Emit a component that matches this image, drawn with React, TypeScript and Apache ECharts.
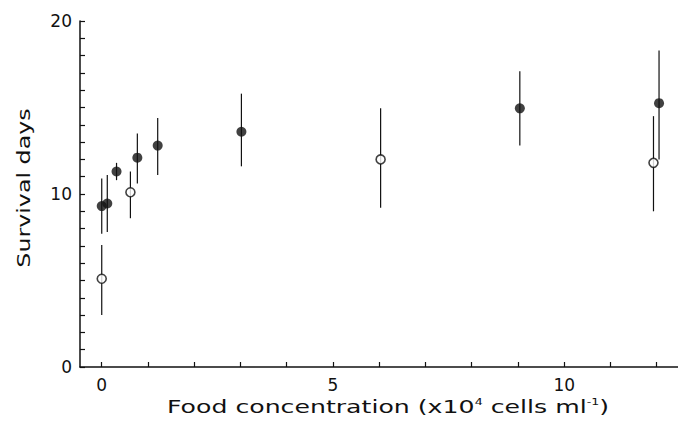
import React, { useEffect, useRef } from "react";
import * as echarts from "echarts";

// Filled circles
const filledX = [0, 0.12, 0.32, 0.77, 1.21, 3.02, 9.04, 12.05];
const filledY = [9.3, 9.45, 11.3, 12.1, 12.8, 13.6, 14.95, 15.25];
const filledLow = [7.7, 7.8, 10.8, 10.6, 11.1, 11.6, 12.8, 12.0];
const filledHigh = [10.9, 11.1, 11.8, 13.5, 14.4, 15.8, 17.1, 18.3];

// Open circles
const openX = [0, 0.62, 6.03, 11.93];
const openY = [5.1, 10.1, 12.0, 11.8];
const openLow = [3.0, 8.6, 9.2, 9.0];
const openHigh = [7.05, 11.3, 14.95, 14.5];

const xTicks = [0, 1, 2, 3, 4, 5, 6, 7, 8, 9, 10, 11, 12];
const xLabels = [0, 5, 10];
const yLabels = [0, 10, 20];

const xTitle = "Food concentration (x10{sup|4} cells ml{sup|-1})";
const yTitle = "Survival days";

const FONT = "DejaVu Sans";

export default function App() {
  const ref = useRef<HTMLDivElement>(null);
  useEffect(() => {
    if (!ref.current) return;
    const chart = echarts.init(ref.current, null, { renderer: "svg" });
    const errData = [
      ...filledX.map((x, i) => [x, filledLow[i], filledHigh[i]]),
      ...openX.map((x, i) => [x, openLow[i], openHigh[i]]),
    ];
    chart.setOption({
      animation: false,
      backgroundColor: "#fff",
      grid: { left: 80, right: 8, top: 21, bottom: 56, outerBoundsMode: "none" },
      graphic: [
        {
          type: "text",
          x: 388,
          y: 407,
          scaleX: 1.4,
          style: {
            text: xTitle,
            fontFamily: FONT,
            fontSize: 18,
            fill: "#111",
            align: "center",
            verticalAlign: "middle",
            rich: {
              sup: { fontSize: 9, verticalAlign: "top", padding: [0, 0, 8, 0], fontFamily: FONT, fill: "#111" },
            },
          },
        },
        {
          type: "text",
          x: 24,
          y: 188,
          rotation: Math.PI / 2,
          scaleX: 1.32,
          style: {
            text: yTitle,
            fontFamily: FONT,
            fontSize: 18,
            fill: "#111",
            align: "center",
            verticalAlign: "middle",
          },
        },
      ],
      xAxis: {
        type: "value",
        min: -0.47,
        max: 12.46,
        axisLine: { show: true, onZero: false, lineStyle: { color: "#111", width: 1.5 } },
        axisTick: { show: true, inside: true, length: 5, customValues: xTicks, lineStyle: { color: "#111", width: 1.2 } },
        axisLabel: { show: true, customValues: xLabels, fontFamily: FONT, fontSize: 17, color: "#111", margin: 9 },
        splitLine: { show: false },
      },
      yAxis: {
        type: "value",
        min: 0,
        max: 20,
        interval: 1,
        axisLine: { show: true, onZero: false, lineStyle: { color: "#111", width: 1.5 } },
        axisTick: { show: true, inside: true, length: 5, lineStyle: { color: "#111", width: 1.2 } },
        axisLabel: { show: true, customValues: yLabels, fontFamily: FONT, fontSize: 17, color: "#111", margin: 8 },
        splitLine: { show: false },
      },
      series: [
        {
          type: "custom",
          renderItem: (params: any, api: any) => {
            const x = api.value(0);
            const p1 = api.coord([x, api.value(1)]);
            const p2 = api.coord([x, api.value(2)]);
            return {
              type: "line",
              shape: { x1: p1[0], y1: p1[1], x2: p2[0], y2: p2[1] },
              style: { stroke: "#111", lineWidth: 1.2 },
            };
          },
          encode: { x: 0, y: [1, 2] },
          data: errData,
          z: 1,
        },
        {
          type: "scatter",
          symbol: "circle",
          symbolSize: 10,
          itemStyle: { color: "#111" },
          data: filledX.map((x, i) => [x, filledY[i]]),
          z: 3,
        },
        {
          type: "scatter",
          symbol: "circle",
          symbolSize: 9,
          itemStyle: { color: "#fff", borderColor: "#111", borderWidth: 1.6 },
          data: openX.map((x, i) => [x, openY[i]]),
          z: 3,
        },
      ],
    });
    return () => chart.dispose();
  }, []);
  return <div ref={ref} style={{ width: 686, height: 423, margin: -8 }} />;
}
